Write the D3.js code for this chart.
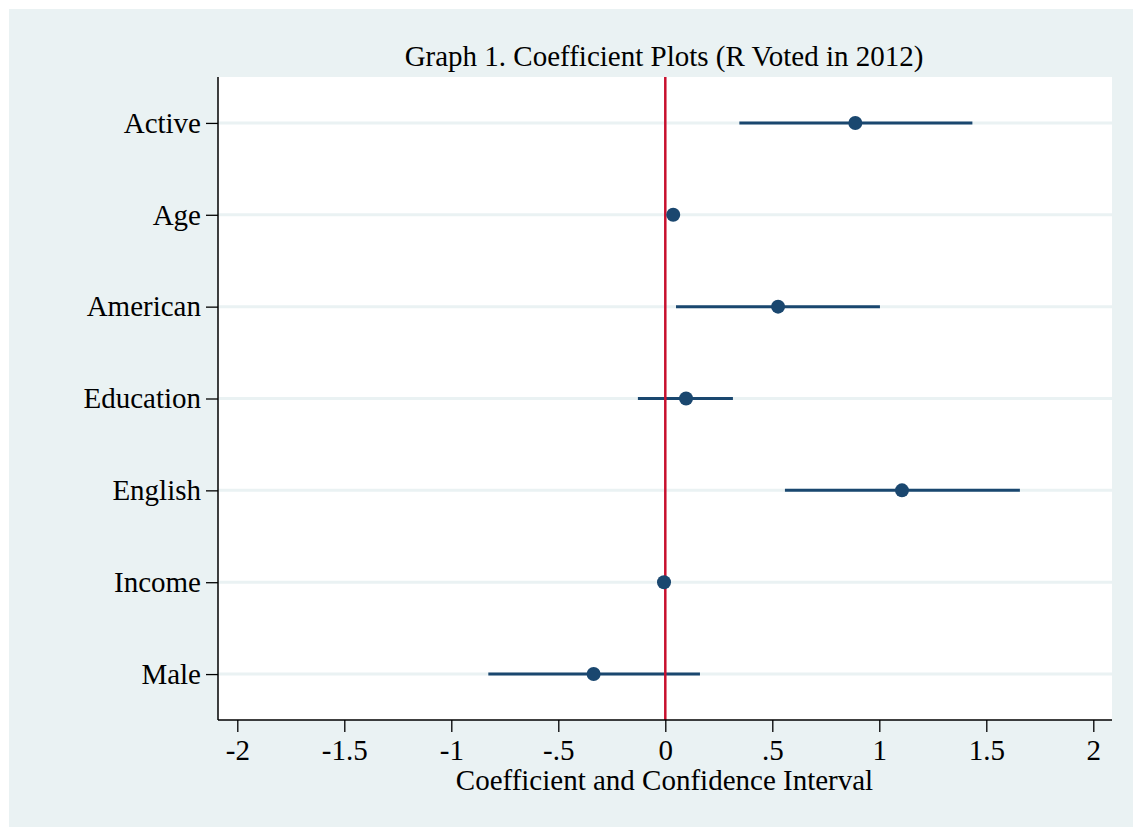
<!DOCTYPE html>
<html>
<head>
<meta charset="utf-8">
<script src="https://cdn.jsdelivr.net/npm/d3@7"></script>
<style>
  html, body { margin: 0; padding: 0; background: #ffffff; }
  svg { display: block; }
  text { font-family: "Liberation Serif", "Times New Roman", serif; fill: #000; }
</style>
</head>
<body>
<svg id="chart" width="1133" height="827"></svg>
<script>
// Logit coefficients with 95% confidence intervals
const variables = ["Active", "Age", "American", "Education", "English", "Income", "Male"];
const coefficients = [0.888, 0.037, 0.527, 0.097, 1.106, -0.006, -0.335];
const ciLower = [0.346, 0.030, 0.050, -0.128, 0.559, -0.012, -0.827];
const ciUpper = [1.435, 0.044, 1.003, 0.316, 1.657, 0.000, 0.162];
const xTicks = [-2, -1.5, -1, -0.5, 0, 0.5, 1, 1.5, 2];
const xTickLabels = ["-2", "-1.5", "-1", "-.5", "0", ".5", "1", "1.5", "2"];

const titleText = "Graph 1. Coefficient Plots (R Voted in 2012)";
const xTitleText = "Coefficient and Confidence Interval";

const rows = variables.map((v, i) => ({
  name: v, b: coefficients[i], lo: ciLower[i], hi: ciUpper[i]
}));

const svg = d3.select("#chart");
const W = 1133, H = 827;
const plot = { left: 218, right: 1112, top: 77, bottom: 720 };
const fontSize = 29;

// graph region background
svg.append("rect")
  .attr("x", 9).attr("y", 9)
  .attr("width", W - 9).attr("height", H - 9)
  .attr("fill", "#eaf2f3");

// plot region
svg.append("rect")
  .attr("x", plot.left).attr("y", plot.top)
  .attr("width", plot.right - plot.left).attr("height", plot.bottom - plot.top)
  .attr("fill", "#ffffff");

const x = d3.scaleLinear()
  .domain([-2, 2])
  .range([237.3, 1093.3]);

const y = d3.scalePoint()
  .domain(variables)
  .range([plot.top, plot.bottom])
  .padding(0.5);

// horizontal grid lines at each variable
svg.append("g")
  .selectAll("line")
  .data(variables)
  .join("line")
  .attr("x1", plot.left).attr("x2", plot.right)
  .attr("y1", d => y(d)).attr("y2", d => y(d))
  .attr("stroke", "#eaf2f3")
  .attr("stroke-width", 3);

// confidence intervals
svg.append("g")
  .selectAll("line")
  .data(rows)
  .join("line")
  .attr("x1", d => x(d.lo)).attr("x2", d => x(d.hi))
  .attr("y1", d => y(d.name)).attr("y2", d => y(d.name))
  .attr("stroke", "#1a476f")
  .attr("stroke-width", 3);

// reference line at zero
svg.append("line")
  .attr("x1", x(0)).attr("x2", x(0))
  .attr("y1", plot.top).attr("y2", plot.bottom)
  .attr("stroke", "#c8102e")
  .attr("stroke-width", 2.5);

// point estimates
svg.append("g")
  .selectAll("circle")
  .data(rows)
  .join("circle")
  .attr("cx", d => x(d.b))
  .attr("cy", d => y(d.name))
  .attr("r", 7)
  .attr("fill", "#1a476f");

// x axis
const xAxis = d3.axisBottom(x)
  .tickValues(xTicks)
  .tickFormat((d, i) => xTickLabels[i])
  .tickSize(12)
  .tickPadding(7)
  .tickSizeOuter(0);

const gx = svg.append("g")
  .attr("transform", `translate(0,${plot.bottom})`)
  .call(xAxis);
gx.select(".domain").remove();
gx.append("line")
  .attr("x1", plot.left).attr("x2", plot.right)
  .attr("y1", 0).attr("y2", 0)
  .attr("stroke", "#000").attr("stroke-width", 1.5);
gx.selectAll(".tick line").attr("stroke", "#000").attr("stroke-width", 1.3);
gx.selectAll(".tick text")
  .attr("font-family", "Liberation Serif, Times New Roman, serif")
  .attr("font-size", fontSize)
  .attr("fill", "#000");

// y axis
const yAxis = d3.axisLeft(y)
  .tickSize(12)
  .tickPadding(5)
  .tickSizeOuter(0);

const gy = svg.append("g")
  .attr("transform", `translate(${plot.left},0)`)
  .call(yAxis);
gy.select(".domain").remove();
gy.append("line")
  .attr("x1", 0).attr("x2", 0)
  .attr("y1", plot.top).attr("y2", plot.bottom)
  .attr("stroke", "#000").attr("stroke-width", 1.5);
gy.selectAll(".tick line").attr("stroke", "#000").attr("stroke-width", 1.3);
gy.selectAll(".tick text")
  .attr("font-family", "Liberation Serif, Times New Roman, serif")
  .attr("font-size", fontSize)
  .attr("fill", "#000");

// title
svg.append("text")
  .attr("x", 664).attr("y", 66)
  .attr("text-anchor", "middle")
  .attr("font-size", fontSize)
  .text(titleText);

// x axis title
svg.append("text")
  .attr("x", 664.5).attr("y", 790)
  .attr("text-anchor", "middle")
  .attr("font-size", fontSize)
  .text(xTitleText);
</script>
</body>
</html>
